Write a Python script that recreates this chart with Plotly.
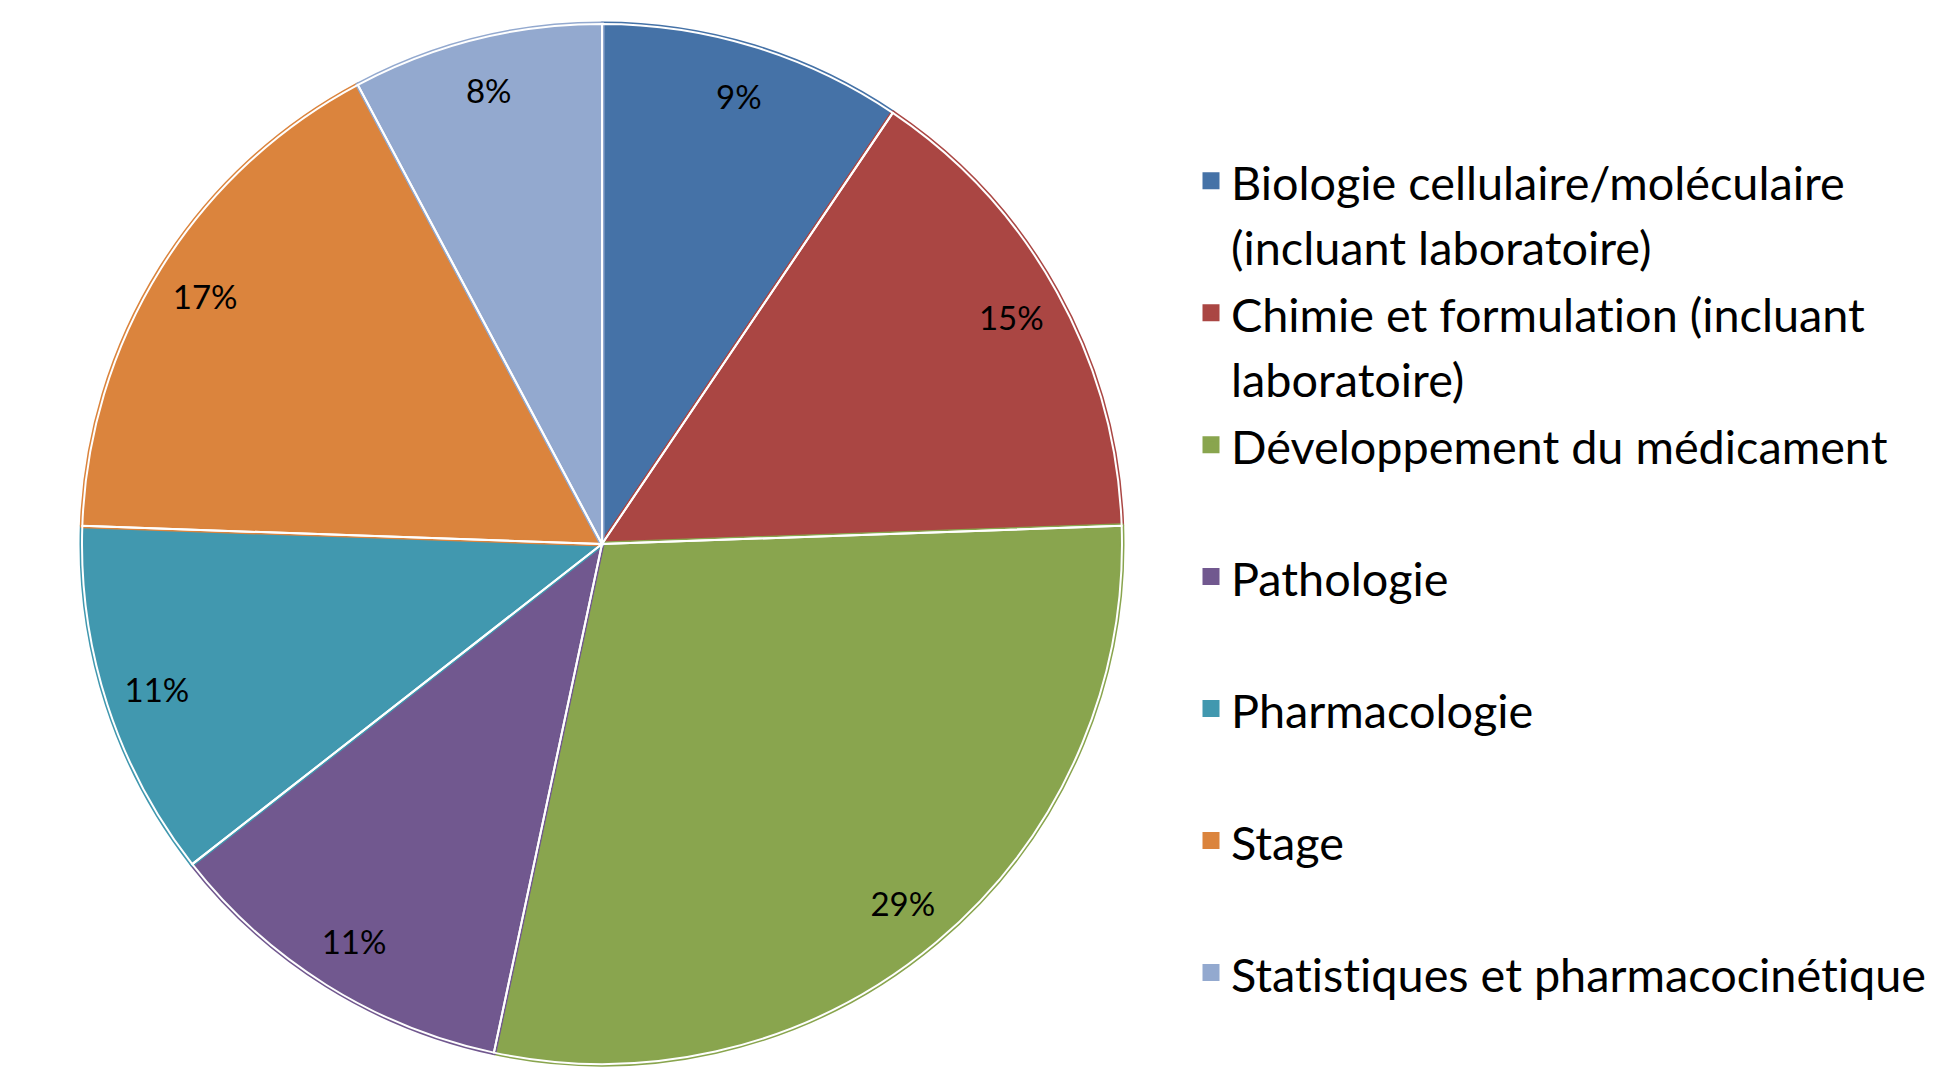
import plotly.graph_objects as go

# ---- data ----
categories = [
    "Biologie cellulaire/moléculaire\n(incluant laboratoire)",
    "Chimie et formulation (incluant\nlaboratoire)",
    "Développement du médicament",
    "Pathologie",
    "Pharmacologie",
    "Stage",
    "Statistiques et pharmacocinétique",
]
values = [17, 27, 52, 20, 20, 30, 14]
colors = ["#4572A7", "#AA4643", "#89A54E", "#71588F", "#4198AF", "#DB843D", "#93A9CF"]

# ---- layout constants ----
W, H = 1936, 1078
FONT = "Lato"
LEGEND_TEXT_PX = 46.8
LEGEND_LINE_FONT = 49.6
LABEL_PX = 33

cx, cy, R = 602, 544, 520
domain = dict(x=[(cx - R) / W, (cx + R) / W], y=[1 - (cy + R) / H, 1 - (cy - R) / H])


def legend_label(name):
    lines = name.split("\n")
    if len(lines) < 2:
        lines.append("&nbsp;")
    return "<br>".join(
        f'<span style="font-size:{LEGEND_TEXT_PX}px;font-variant-ligatures:none">{ln}</span>'
        for ln in lines
    )


labels = [legend_label(c) for c in categories]
clear = ["rgba(0,0,0,0)"] * len(values)

fig = go.Figure()
# coloured slices (outline in the slice colour so the legend swatch is larger)
fig.add_trace(go.Pie(
    labels=labels, values=values, sort=False, direction="clockwise", rotation=0,
    marker=dict(colors=colors, line=dict(color=colors, width=5)),
    textinfo="none", domain=domain, showlegend=True, hoverinfo="skip",
))
# white separators
fig.add_trace(go.Pie(
    labels=labels, values=values, sort=False, direction="clockwise", rotation=0,
    marker=dict(colors=clear, line=dict(color="white", width=2)),
    textinfo="none", domain=domain, showlegend=False, hoverinfo="skip",
))
# percentage labels near the rim
fig.add_trace(go.Pie(
    labels=labels, values=values, sort=False, direction="clockwise", rotation=0,
    hole=0.8,
    marker=dict(colors=clear, line=dict(width=0)),
    texttemplate="%{percent:.0%}", textposition="inside",
    insidetextorientation="horizontal",
    textfont=dict(family=FONT, size=LABEL_PX, color="black"),
    domain=domain, showlegend=False, hoverinfo="skip",
))

fig.update_layout(
    width=W, height=H,
    margin=dict(l=0, r=0, t=0, b=0, pad=0, autoexpand=False),
    paper_bgcolor="white", plot_bgcolor="white",
    showlegend=True,
    legend=dict(
        x=1191 / W, xanchor="left", y=1 - 142 / H, yanchor="top",
        valign="top", traceorder="normal",
        font=dict(family=FONT, size=LEGEND_LINE_FONT, color="black"),
        bgcolor="rgba(0,0,0,0)", borderwidth=0,
    ),
)

fig.write_html(
    "out.html",
    config={"displayModeBar": False},
    post_script="document.body.style.margin='0';document.body.style.overflow='hidden';",
)
